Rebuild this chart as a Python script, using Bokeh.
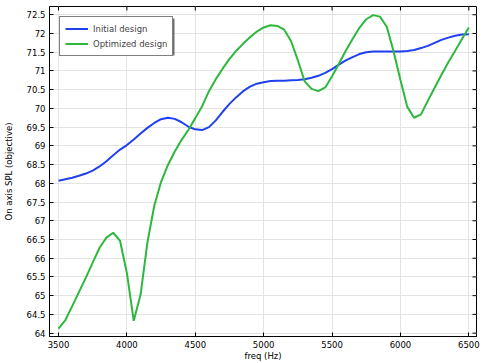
import math
from bokeh.plotting import figure
from bokeh.models import (FixedTicker, NumeralTickFormatter, Range1d,
                          Legend, LegendItem, BoxAnnotation)
from bokeh.embed import file_html
from bokeh.resources import INLINE

freq = [3500, 3550, 3600, 3650, 3700, 3750, 3800, 3850, 3900, 3950,
        4000, 4050, 4100, 4150, 4200, 4250, 4300, 4350, 4400, 4450,
        4500, 4550, 4600, 4650, 4700, 4750, 4800, 4850, 4900, 4950,
        5000, 5050, 5100, 5150, 5200, 5250, 5300, 5350, 5400, 5450,
        5500, 5550, 5600, 5650, 5700, 5750, 5800, 5850, 5900, 5950,
        6000, 6050, 6100, 6150, 6200, 6250, 6300, 6350, 6400, 6450, 6500]

initial = [68.07, 68.11, 68.15, 68.20, 68.26, 68.34, 68.45, 68.59, 68.75, 68.90,
           69.02, 69.17, 69.33, 69.48, 69.61, 69.71, 69.75, 69.72, 69.63, 69.51,
           69.44, 69.42, 69.50, 69.68, 69.91, 70.12, 70.30, 70.46, 70.58, 70.66,
           70.70, 70.73, 70.74, 70.74, 70.75, 70.76, 70.78, 70.82, 70.87, 70.95,
           71.05, 71.17, 71.28, 71.37, 71.45, 71.50, 71.52, 71.52, 71.52, 71.52,
           71.52, 71.53, 71.56, 71.61, 71.67, 71.75, 71.83, 71.89, 71.94, 71.97, 71.98]

optimized = [64.12, 64.35, 64.72, 65.10, 65.48, 65.88, 66.28, 66.55, 66.68, 66.46,
             65.60, 64.33, 65.03, 66.42, 67.40, 68.04, 68.49, 68.85, 69.16, 69.43,
             69.74, 70.06, 70.46, 70.78, 71.06, 71.32, 71.54, 71.73, 71.90, 72.05,
             72.16, 72.22, 72.20, 72.10, 71.80, 71.28, 70.72, 70.52, 70.46, 70.56,
             70.86, 71.19, 71.54, 71.85, 72.15, 72.38, 72.49, 72.45, 72.18, 71.52,
             70.76, 70.04, 69.75, 69.84, 70.20, 70.55, 70.90, 71.23, 71.54, 71.85, 72.16]

x_ticks = [3500, 4000, 4500, 5000, 5500, 6000, 6500]
y_ticks = [64, 64.5, 65, 65.5, 66, 66.5, 67, 67.5, 68, 68.5, 69, 69.5, 70,
           70.5, 71, 71.5, 72, 72.5]

FONT = "DejaVu Sans"

x_range = Range1d(3434, 6556)
y_range = Range1d(63.91, 72.72)

p = figure(width=483, height=363, output_backend="svg", toolbar_location=None,
           x_range=x_range, y_range=y_range,
           min_border_left=47, min_border_right=7, min_border_top=6,
           min_border_bottom=26)
p.background_fill_color = "white"
p.border_fill_color = "white"
p.outline_line_color = "black"
p.outline_line_width = 1

p.xgrid.ticker = FixedTicker(ticks=x_ticks)
p.ygrid.ticker = FixedTicker(ticks=y_ticks)
p.grid.grid_line_color = "#e4e4e4"
p.grid.grid_line_width = 1

# mirrored inward ticks on the top and right edges
p.ray(x=x_ticks, y=[y_range.end] * len(x_ticks), length=4, length_units="screen",
      angle=-math.pi / 2, line_color="black", line_width=1)
p.ray(x=[x_range.end] * len(y_ticks), y=y_ticks, length=4, length_units="screen",
      angle=math.pi, line_color="black", line_width=1)

r1 = p.line(freq, initial, line_color="#2040f0", line_width=2)
r2 = p.line(freq, optimized, line_color="#2db83d", line_width=2)

def style_axis(ax):
    ax.axis_line_color = "black"
    ax.major_tick_in = 4
    ax.major_tick_out = 0
    ax.minor_tick_in = 0
    ax.minor_tick_out = 0
    ax.major_tick_line_color = "black"
    ax.major_label_text_font = FONT
    ax.major_label_text_font_size = "8.5px"
    ax.major_label_text_color = "black"
    ax.axis_label_text_font = FONT
    ax.axis_label_text_font_size = "8.5px"
    ax.axis_label_text_font_style = "normal"
    ax.axis_label_text_color = "black"

xa = p.xaxis[0]
xa.ticker = FixedTicker(ticks=x_ticks)
style_axis(xa)
xa.axis_label = "freq (Hz)"
xa.major_label_standoff = 4
xa.axis_label_standoff = 0

ya = p.yaxis[0]
ya.ticker = FixedTicker(ticks=y_ticks)
ya.formatter = NumeralTickFormatter(format="0.[0]")
style_axis(ya)
ya.axis_label = "On axis SPL (objective)"
ya.major_label_standoff = 4
ya.axis_label_standoff = 10

# drop shadow behind the legend (screen units are relative to the frame)
shadow = BoxAnnotation(left=12, right=125, top=318, bottom=281,
                       left_units="screen", right_units="screen",
                       top_units="screen", bottom_units="screen",
                       fill_color="#555555", fill_alpha=0.85, line_color=None,
                       level="annotation")
p.add_layout(shadow)

legend = Legend(items=[LegendItem(label="Initial design", renderers=[r1]),
                       LegendItem(label="Optimized design", renderers=[r2])],
                location="top_left")
legend.margin = 10
legend.padding = 5
legend.spacing = 2
legend.glyph_width = 23
legend.glyph_height = 13
legend.label_height = 13
legend.label_standoff = 5
legend.label_text_font = FONT
legend.label_text_font_size = "8.5px"
legend.border_line_color = "black"
legend.border_line_width = 1.5
legend.background_fill_color = "white"
legend.background_fill_alpha = 1
p.add_layout(legend)

open("out.html", "w").write(file_html(p, INLINE))
